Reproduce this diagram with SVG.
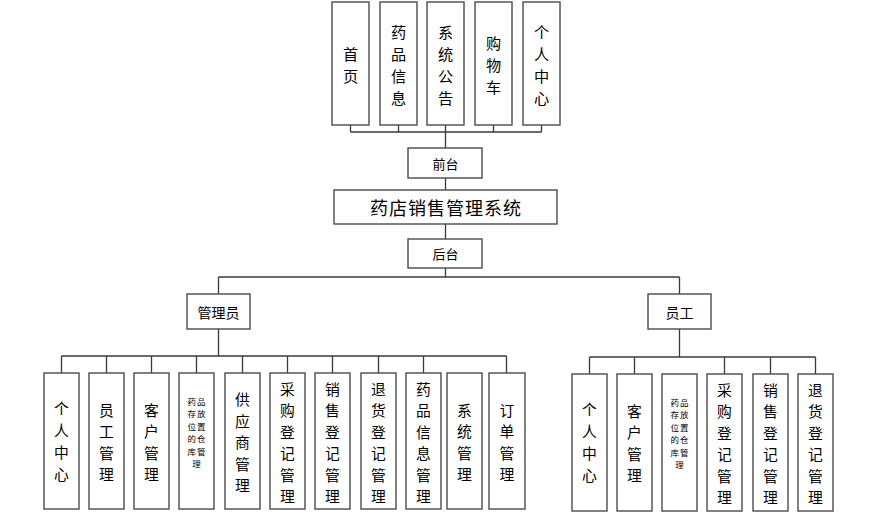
<svg xmlns="http://www.w3.org/2000/svg" width="880" height="521" viewBox="0 0 880 521">
<style>
rect.b{fill:#ffffff;stroke:#4a4a4a;stroke-width:1.4}
.c line{stroke:#3a3a3a;stroke-width:1.3}
text{font-family:"Noto Sans CJK SC","Liberation Sans",sans-serif;fill:#000;text-anchor:middle;dominant-baseline:central}
.v{font-size:15.2px}
.w{font-size:14.8px}
.s{font-size:8.5px;letter-spacing:1px}
.m{font-size:13px}
.r{font-size:14px}
.t{font-size:18px;letter-spacing:1px}
</style>
<rect width="880" height="521" fill="#ffffff"/>
<g class="c" id="connectors">
<line x1="350.5" y1="125" x2="350.5" y2="132"/>
<line x1="398.5" y1="125" x2="398.5" y2="132"/>
<line x1="445.5" y1="125" x2="445.5" y2="148"/>
<line x1="493.5" y1="125" x2="493.5" y2="132"/>
<line x1="541.5" y1="125" x2="541.5" y2="132"/>
<line x1="350.5" y1="132" x2="541.5" y2="132"/>
<line x1="445.5" y1="178" x2="445.5" y2="190"/>
<line x1="445.5" y1="224" x2="445.5" y2="239"/>
<line x1="445.5" y1="268" x2="445.5" y2="277"/>
<line x1="218.5" y1="277" x2="679.5" y2="277"/>
<line x1="218.5" y1="277" x2="218.5" y2="294"/>
<line x1="679.5" y1="277" x2="679.5" y2="294"/>
<line x1="218.5" y1="329" x2="218.5" y2="356"/>
<line x1="61.5" y1="356" x2="506.5" y2="356"/>
<line x1="61.5" y1="356" x2="61.5" y2="373"/>
<line x1="106.5" y1="356" x2="106.5" y2="373"/>
<line x1="151.5" y1="356" x2="151.5" y2="373"/>
<line x1="196.5" y1="356" x2="196.5" y2="373"/>
<line x1="242.5" y1="356" x2="242.5" y2="373"/>
<line x1="287.5" y1="356" x2="287.5" y2="373"/>
<line x1="332.5" y1="356" x2="332.5" y2="373"/>
<line x1="378.5" y1="356" x2="378.5" y2="373"/>
<line x1="423.5" y1="356" x2="423.5" y2="373"/>
<line x1="506.5" y1="356" x2="506.5" y2="373"/>
<line x1="679.5" y1="329" x2="679.5" y2="357"/>
<line x1="589.5" y1="357" x2="815.5" y2="357"/>
<line x1="589.5" y1="357" x2="589.5" y2="374"/>
<line x1="634.5" y1="357" x2="634.5" y2="374"/>
<line x1="724.5" y1="357" x2="724.5" y2="374"/>
<line x1="770.5" y1="357" x2="770.5" y2="374"/>
<line x1="815.5" y1="357" x2="815.5" y2="374"/>
</g>
<g id="n-home"><rect class="b" x="332" y="2" width="37" height="123"/><text class="v"><tspan x="350.5" y="52.5">首</tspan><tspan x="350.5" y="74.5">页</tspan></text></g>
<g id="n-druginfo"><rect class="b" x="380" y="2" width="37" height="123"/><text class="v"><tspan x="398.5" y="30.5">药</tspan><tspan x="398.5" y="52.5">品</tspan><tspan x="398.5" y="74.5">信</tspan><tspan x="398.5" y="96.5">息</tspan></text></g>
<g id="n-notice"><rect class="b" x="427" y="2" width="37" height="123"/><text class="v"><tspan x="445.5" y="30.5">系</tspan><tspan x="445.5" y="52.5">统</tspan><tspan x="445.5" y="74.5">公</tspan><tspan x="445.5" y="96.5">告</tspan></text></g>
<g id="n-cart"><rect class="b" x="475" y="2" width="37" height="123"/><text class="v"><tspan x="493.5" y="41.5">购</tspan><tspan x="493.5" y="63.5">物</tspan><tspan x="493.5" y="85.5">车</tspan></text></g>
<g id="n-personal"><rect class="b" x="523" y="2" width="37" height="123"/><text class="v"><tspan x="541.5" y="31">个</tspan><tspan x="541.5" y="53">人</tspan><tspan x="541.5" y="75">中</tspan><tspan x="541.5" y="97">心</tspan></text></g>
<g id="n-front"><rect class="b" x="408" y="148" width="74" height="30"/><text class="m" x="445.5" y="163">前台</text></g>
<g id="n-system"><rect class="b" x="334" y="190" width="223" height="34"/><text class="t" x="446" y="207">药店销售管理系统</text></g>
<g id="n-back"><rect class="b" x="408" y="239" width="74" height="29"/><text class="m" x="445.5" y="253.5">后台</text></g>
<g id="n-admin"><rect class="b" x="187" y="294" width="63" height="35"/><text class="r" x="218.5" y="311.5">管理员</text></g>
<g id="n-staff"><rect class="b" x="648" y="294" width="63" height="35"/><text class="r" x="679.5" y="311.5">员工</text></g>
<g id="a1"><rect class="b" x="44" y="373" width="35" height="136"/><text class="w"><tspan x="61.5" y="407">个</tspan><tspan x="61.5" y="429">人</tspan><tspan x="61.5" y="451">中</tspan><tspan x="61.5" y="473">心</tspan></text></g>
<g id="a2"><rect class="b" x="89" y="373" width="35" height="136"/><text class="w"><tspan x="106.5" y="408.5">员</tspan><tspan x="106.5" y="430">工</tspan><tspan x="106.5" y="451.5">管</tspan><tspan x="106.5" y="473">理</tspan></text></g>
<g id="a3"><rect class="b" x="134" y="373" width="35" height="136"/><text class="w"><tspan x="151.5" y="408.5">客</tspan><tspan x="151.5" y="430">户</tspan><tspan x="151.5" y="451.5">管</tspan><tspan x="151.5" y="473">理</tspan></text></g>
<g id="a4"><rect class="b" x="179" y="373" width="35" height="136"/><text class="s"><tspan x="197" y="401">药品</tspan><tspan x="197" y="413.4">存放</tspan><tspan x="197" y="425.8">位置</tspan><tspan x="197" y="438.2">的仓</tspan><tspan x="197" y="450.6">库管</tspan><tspan x="197" y="463">理</tspan></text></g>
<g id="a5"><rect class="b" x="225" y="373" width="35" height="136"/><text class="w"><tspan x="242.5" y="398">供</tspan><tspan x="242.5" y="419.5">应</tspan><tspan x="242.5" y="441">商</tspan><tspan x="242.5" y="462.5">管</tspan><tspan x="242.5" y="484">理</tspan></text></g>
<g id="a6"><rect class="b" x="270" y="373" width="35" height="136"/><text class="w"><tspan x="287.5" y="387.5">采</tspan><tspan x="287.5" y="409">购</tspan><tspan x="287.5" y="430.5">登</tspan><tspan x="287.5" y="452">记</tspan><tspan x="287.5" y="473.5">管</tspan><tspan x="287.5" y="495">理</tspan></text></g>
<g id="a7"><rect class="b" x="315" y="373" width="35" height="136"/><text class="w"><tspan x="332.5" y="387.5">销</tspan><tspan x="332.5" y="409">售</tspan><tspan x="332.5" y="430.5">登</tspan><tspan x="332.5" y="452">记</tspan><tspan x="332.5" y="473.5">管</tspan><tspan x="332.5" y="495">理</tspan></text></g>
<g id="a8"><rect class="b" x="361" y="373" width="35" height="136"/><text class="w"><tspan x="378.5" y="387.5">退</tspan><tspan x="378.5" y="409">货</tspan><tspan x="378.5" y="430.5">登</tspan><tspan x="378.5" y="452">记</tspan><tspan x="378.5" y="473.5">管</tspan><tspan x="378.5" y="495">理</tspan></text></g>
<g id="a9"><rect class="b" x="406" y="373" width="35" height="136"/><text class="w"><tspan x="423.5" y="387.5">药</tspan><tspan x="423.5" y="409">品</tspan><tspan x="423.5" y="430.5">信</tspan><tspan x="423.5" y="452">息</tspan><tspan x="423.5" y="473.5">管</tspan><tspan x="423.5" y="495">理</tspan></text></g>
<g id="a10"><rect class="b" x="447" y="373" width="35" height="136"/><text class="w"><tspan x="464.5" y="408.5">系</tspan><tspan x="464.5" y="430">统</tspan><tspan x="464.5" y="451.5">管</tspan><tspan x="464.5" y="473">理</tspan></text></g>
<g id="a11"><rect class="b" x="489" y="373" width="36" height="136"/><text class="w"><tspan x="507" y="408.5">订</tspan><tspan x="507" y="430">单</tspan><tspan x="507" y="451.5">管</tspan><tspan x="507" y="473">理</tspan></text></g>
<g id="e1"><rect class="b" x="572" y="374" width="35" height="137"/><text class="w"><tspan x="589.5" y="408">个</tspan><tspan x="589.5" y="430">人</tspan><tspan x="589.5" y="452">中</tspan><tspan x="589.5" y="474">心</tspan></text></g>
<g id="e2"><rect class="b" x="617" y="374" width="35" height="137"/><text class="w"><tspan x="634.5" y="409.5">客</tspan><tspan x="634.5" y="431">户</tspan><tspan x="634.5" y="452.5">管</tspan><tspan x="634.5" y="474">理</tspan></text></g>
<g id="e3"><rect class="b" x="662" y="374" width="35" height="137"/><text class="s"><tspan x="680" y="402">药品</tspan><tspan x="680" y="414.4">存放</tspan><tspan x="680" y="426.8">位置</tspan><tspan x="680" y="439.2">的仓</tspan><tspan x="680" y="451.6">库管</tspan><tspan x="680" y="464">理</tspan></text></g>
<g id="e4"><rect class="b" x="707" y="374" width="35" height="137"/><text class="w"><tspan x="724.5" y="388.5">采</tspan><tspan x="724.5" y="410">购</tspan><tspan x="724.5" y="431.5">登</tspan><tspan x="724.5" y="453">记</tspan><tspan x="724.5" y="474.5">管</tspan><tspan x="724.5" y="496">理</tspan></text></g>
<g id="e5"><rect class="b" x="753" y="374" width="35" height="137"/><text class="w"><tspan x="770.5" y="388.5">销</tspan><tspan x="770.5" y="410">售</tspan><tspan x="770.5" y="431.5">登</tspan><tspan x="770.5" y="453">记</tspan><tspan x="770.5" y="474.5">管</tspan><tspan x="770.5" y="496">理</tspan></text></g>
<g id="e6"><rect class="b" x="798" y="374" width="35" height="137"/><text class="w"><tspan x="815.5" y="388.5">退</tspan><tspan x="815.5" y="410">货</tspan><tspan x="815.5" y="431.5">登</tspan><tspan x="815.5" y="453">记</tspan><tspan x="815.5" y="474.5">管</tspan><tspan x="815.5" y="496">理</tspan></text></g>
</svg>
